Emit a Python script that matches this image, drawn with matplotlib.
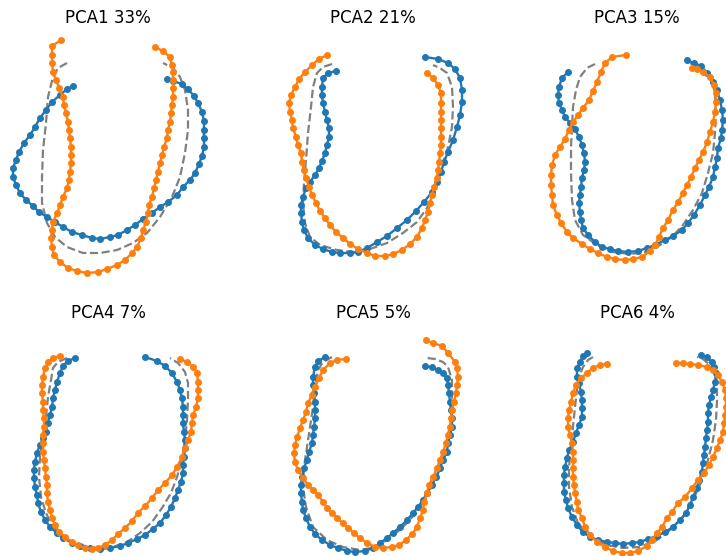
import numpy as np
import matplotlib
matplotlib.use('Agg')
from matplotlib import pyplot as plt

# shape outlines, in pixel units of the 726x556 image
titles = ['PCA1 33%', 'PCA2 21%', 'PCA3 15%', 'PCA4 7%', 'PCA5 5%', 'PCA6 4%']

pca1_mean = [(67, 63), (58, 68), (53, 77), (48, 97), (46, 123), (43, 150), (42, 177),
             (42, 203), (47, 223), (55, 237), (67, 247), (83, 253), (100, 253), (117, 250),
             (133, 243), (147, 233), (160, 217), (172, 197), (180, 177), (185, 153),
             (188, 130), (188, 110), (185, 90), (180, 77), (173, 68), (163, 63)]
pca1_blue = [(73, 86), (67, 89), (60, 95), (52, 102), (46, 110), (40, 118), (35, 127),
             (30, 135), (24, 143), (19, 152), (16, 160), (13, 168), (13, 177), (16, 185),
             (20, 193), (26, 200), (33, 206), (39, 212), (47, 217), (55, 222), (63, 227),
             (72, 232), (82, 235), (92, 238), (100, 239), (110, 237), (118, 235), (127, 230),
             (135, 225), (143, 219), (152, 213), (160, 207), (168, 202), (177, 195), (183, 187),
             (190, 180), (195, 173), (199, 164), (202, 156), (204, 147), (204, 138), (204, 130),
             (204, 121), (202, 112), (198, 103), (194, 96), (188, 89), (182, 84), (173, 81),
             (167, 79)]
pca1_orange = [(61, 40), (52, 46), (52, 55), (52, 63), (53, 72), (56, 80), (59, 88), (63, 97),
               (64, 105), (66, 113), (68, 122), (69, 130), (70, 138), (71, 147), (71, 155),
               (71, 163), (70, 172), (69, 180), (67, 188), (63, 197), (60, 205), (57, 213),
               (53, 222), (52, 230), (51, 238), (52, 247), (54, 255), (60, 262), (68, 268),
               (77, 271), (87, 273), (98, 272), (107, 269), (117, 265), (125, 260), (132, 253),
               (137, 247), (141, 238), (143, 230), (146, 222), (148, 213), (149, 205), (152, 197),
               (154, 188), (156, 180), (158, 172), (160, 163), (162, 155), (164, 147), (167, 138),
               (168, 130), (170, 122), (171, 113), (172, 105), (173, 97), (173, 88), (173, 80),
               (173, 72), (172, 65), (170, 57), (163, 51), (155, 47)]

pca2_mean = [(332, 64), (323, 67), (317, 73), (313, 87), (311, 107), (308, 133), (306, 160),
             (304, 183), (303, 203), (305, 223), (310, 237), (320, 245), (337, 250), (353, 252),
             (370, 249), (387, 243), (403, 233), (417, 222), (427, 208), (433, 193), (438, 180),
             (443, 163), (448, 147), (452, 127), (453, 107), (452, 87), (447, 73), (440, 68),
             (433, 65)]
pca2_blue = [(336, 71), (328, 73), (323, 78), (322, 87), (322, 95), (323, 103), (325, 112),
             (327, 120), (329, 128), (329, 137), (327, 145), (325, 153), (322, 161), (319, 168),
             (315, 175), (310, 182), (306, 188), (303, 197), (301, 205), (301, 213), (302, 222),
             (304, 230), (308, 238), (315, 245), (323, 249), (332, 252), (340, 253), (350, 253),
             (358, 252), (367, 248), (377, 242), (387, 236), (397, 228), (407, 220), (416, 211),
             (424, 202), (432, 192), (437, 182), (441, 172), (444, 162), (448, 152), (453, 140),
             (457, 127), (460, 115), (462, 102), (462, 90), (460, 78), (455, 69), (448, 63),
             (438, 59), (425, 57)]
pca2_orange = [(327, 55), (319, 59), (312, 65), (305, 72), (299, 79), (295, 87), (291, 95),
               (289, 103), (290, 112), (292, 120), (293, 128), (296, 137), (298, 145), (301, 153),
               (302, 162), (304, 170), (306, 178), (309, 187), (312, 195), (316, 203), (320, 211),
               (325, 218), (330, 225), (336, 232), (343, 238), (350, 244), (358, 249), (367, 253),
               (375, 256), (385, 256), (393, 254), (402, 250), (410, 244), (417, 237), (422, 228),
               (425, 220), (428, 212), (430, 203), (432, 195), (434, 187), (437, 178), (438, 170),
               (439, 162), (440, 153), (441, 145), (441, 137), (441, 128), (441, 120), (441, 112),
               (441, 103), (441, 93), (438, 85), (433, 78), (427, 73)]

pca3_mean = [(595, 64), (587, 68), (580, 77), (576, 90), (573, 107), (572, 127), (571, 147),
             (571, 173), (572, 200), (575, 220), (583, 235), (597, 245), (613, 252), (630, 254),
             (647, 252), (660, 245), (672, 237), (683, 225), (693, 210), (702, 193), (708, 173),
             (713, 153), (715, 133), (716, 113), (715, 93), (712, 80), (705, 71), (697, 66),
             (690, 63)]
pca3_blue = [(568, 72), (562, 78), (559, 87), (558, 95), (559, 103), (562, 110), (565, 117),
             (570, 123), (575, 129), (579, 137), (582, 145), (584, 153), (585, 162), (584, 170),
             (582, 178), (581, 187), (580, 195), (579, 203), (580, 212), (581, 220), (583, 228),
             (588, 235), (595, 242), (602, 247), (610, 249), (618, 251), (628, 252), (638, 251),
             (647, 248), (655, 245), (665, 240), (673, 236), (682, 230), (688, 223), (694, 215),
             (700, 205), (705, 195), (709, 187), (713, 177), (715, 167), (717, 158), (718, 148),
             (721, 138), (722, 130), (723, 120), (722, 110), (720, 100), (717, 90), (713, 82),
             (707, 73), (701, 66), (694, 63), (687, 60)]
pca3_orange = [(626, 55), (612, 57), (605, 63), (601, 72), (597, 82), (593, 91), (589, 100),
               (583, 108), (578, 115), (573, 122), (569, 130), (565, 139), (560, 147), (555, 155),
               (552, 165), (551, 175), (551, 185), (552, 195), (553, 205), (557, 215), (561, 223),
               (567, 232), (573, 238), (582, 244), (590, 249), (598, 253), (607, 257), (615, 259),
               (625, 260), (633, 259), (642, 257), (650, 251), (655, 245), (659, 237), (663, 228),
               (668, 220), (673, 210), (678, 202), (683, 193), (687, 185), (691, 177), (695, 168),
               (699, 160), (703, 152), (707, 142), (710, 132), (713, 122), (715, 112), (716, 102),
               (716, 93), (714, 85), (710, 77), (703, 72), (697, 69), (692, 68)]

pca4_mean = [(67, 358), (58, 362), (53, 368), (51, 380), (48, 397), (46, 417), (43, 437),
             (40, 457), (39, 477), (41, 497), (46, 513), (53, 527), (65, 538), (80, 545),
             (97, 548), (113, 547), (127, 542), (140, 533), (152, 522), (162, 508), (171, 493),
             (177, 477), (182, 460), (185, 440), (187, 420), (188, 400), (188, 383), (185, 372),
             (178, 363), (170, 358)]
pca4_blue = [(75, 358), (68, 361), (63, 366), (60, 373), (57, 382), (55, 390), (53, 398),
             (52, 407), (50, 415), (48, 423), (46, 432), (43, 438), (40, 445), (37, 453),
             (35, 462), (34, 470), (34, 478), (35, 487), (37, 495), (38, 503), (41, 512),
             (45, 520), (50, 527), (57, 533), (63, 538), (72, 543), (80, 546), (90, 548),
             (100, 549), (110, 548), (120, 546), (128, 543), (137, 539), (145, 535), (153, 529),
             (160, 523), (166, 515), (171, 507), (175, 498), (178, 490), (181, 482), (183, 473),
             (183, 465), (184, 457), (185, 448), (185, 440), (184, 432), (183, 423), (183, 415),
             (183, 407), (182, 398), (180, 390), (177, 382), (172, 373), (165, 366), (157, 361),
             (145, 357)]
pca4_orange = [(60, 356), (53, 358), (48, 362), (45, 368), (43, 377), (42, 385), (42, 393),
               (43, 402), (43, 410), (44, 418), (44, 427), (43, 435), (43, 443), (43, 452),
               (44, 460), (45, 468), (46, 477), (47, 485), (47, 493), (48, 502), (50, 510),
               (52, 518), (55, 525), (59, 532), (65, 537), (72, 542), (78, 545), (85, 548),
               (92, 549), (98, 548), (105, 545), (112, 540), (118, 534), (125, 528), (132, 521),
               (138, 513), (145, 506), (152, 498), (158, 490), (165, 483), (172, 475), (177, 467),
               (182, 457), (185, 448), (188, 440), (191, 432), (192, 423), (193, 415), (196, 407),
               (198, 398), (198, 390), (198, 382), (197, 373), (193, 367), (187, 362), (180, 359)]

pca5_mean = [(332, 357), (323, 362), (318, 370), (315, 387), (313, 407), (310, 427), (307, 447),
             (304, 467), (303, 487), (306, 507), (313, 527), (327, 540), (343, 547), (360, 550),
             (377, 547), (390, 538), (403, 527), (417, 512), (428, 493), (437, 477), (443, 457),
             (448, 437), (451, 417), (452, 397), (452, 380), (448, 367), (443, 362), (435, 359),
             (427, 358)]
pca5_blue = [(325, 357), (318, 361), (315, 367), (313, 377), (313, 385), (314, 393), (315, 402),
             (315, 410), (315, 418), (314, 427), (313, 435), (312, 443), (309, 452), (307, 460),
             (304, 468), (302, 477), (301, 485), (301, 493), (302, 502), (303, 510), (306, 518),
             (310, 527), (315, 534), (322, 540), (330, 545), (338, 548), (347, 551), (355, 552),
             (365, 551), (373, 548), (380, 543), (387, 538), (393, 533), (400, 527), (407, 520),
             (413, 513), (418, 507), (423, 500), (427, 493), (432, 485), (436, 477), (440, 468),
             (443, 460), (447, 452), (448, 443), (450, 435), (452, 427), (452, 418), (451, 410),
             (450, 402), (449, 393), (448, 385), (447, 378), (443, 373), (438, 370), (432, 367),
             (425, 366)]
pca5_orange = [(346, 359), (337, 360), (330, 363), (323, 370), (319, 378), (315, 387), (312, 395),
               (308, 403), (306, 412), (303, 420), (300, 428), (297, 437), (295, 445), (294, 453),
               (295, 462), (298, 470), (303, 478), (308, 485), (313, 490), (318, 495), (323, 502),
               (327, 508), (332, 513), (337, 518), (343, 523), (348, 528), (354, 533), (360, 538),
               (367, 543), (375, 547), (383, 548), (392, 547), (399, 545), (406, 540), (412, 534),
               (417, 527), (420, 518), (423, 510), (424, 502), (427, 493), (429, 485), (433, 477),
               (437, 468), (440, 460), (443, 452), (446, 443), (448, 435), (450, 427), (451, 418),
               (452, 410), (454, 402), (456, 393), (457, 385), (458, 377), (457, 368), (455, 362),
               (448, 353), (442, 346), (433, 343), (426, 340)]

pca6_mean = [(593, 357), (588, 360), (583, 367), (579, 377), (577, 390), (575, 407), (573, 427),
             (571, 447), (569, 467), (569, 487), (572, 507), (578, 523), (590, 537), (607, 545),
             (623, 548), (640, 547), (657, 540), (670, 530), (683, 517), (693, 500), (702, 480),
             (708, 460), (713, 440), (716, 420), (717, 400), (717, 383), (715, 373), (710, 365),
             (703, 359), (697, 357)]
pca6_blue = [(587, 353), (583, 356), (580, 362), (577, 368), (577, 377), (579, 383), (581, 392),
             (582, 400), (582, 408), (582, 417), (579, 425), (576, 433), (573, 442), (569, 450),
             (567, 458), (565, 467), (564, 475), (564, 483), (564, 492), (566, 500), (568, 508),
             (572, 517), (577, 525), (583, 532), (590, 537), (598, 540), (607, 542), (615, 543),
             (623, 544), (632, 543), (640, 542), (648, 539), (657, 536), (665, 532), (673, 527),
             (680, 520), (686, 513), (690, 505), (693, 497), (697, 488), (699, 480), (702, 472),
             (703, 463), (704, 455), (705, 447), (706, 438), (707, 430), (708, 422), (708, 413),
             (709, 405), (711, 397), (713, 390), (715, 382), (716, 373), (714, 367), (712, 362),
             (707, 357), (701, 355)]
pca6_orange = [(607, 364), (600, 365), (593, 368), (587, 373), (581, 378), (576, 385), (573, 393),
               (571, 402), (569, 410), (568, 418), (568, 427), (570, 435), (572, 443), (573, 452),
               (573, 460), (573, 468), (573, 477), (574, 485), (575, 493), (577, 502), (578, 510),
               (582, 518), (585, 527), (590, 535), (597, 542), (605, 547), (613, 551), (622, 553),
               (630, 553), (638, 551), (647, 546), (652, 540), (657, 533), (662, 527), (667, 518),
               (672, 512), (678, 503), (685, 497), (692, 488), (698, 480), (704, 473), (709, 465),
               (713, 457), (717, 448), (720, 440), (723, 432), (724, 423), (725, 415), (726, 407),
               (726, 398), (725, 390), (722, 382), (718, 375), (713, 370), (707, 367), (698, 365),
               (690, 364), (683, 363), (676, 363)]

means = [pca1_mean, pca2_mean, pca3_mean, pca4_mean, pca5_mean, pca6_mean]
blues = [pca1_blue, pca2_blue, pca3_blue, pca4_blue, pca5_blue, pca6_blue]
oranges = [pca1_orange, pca2_orange, pca3_orange, pca4_orange, pca5_orange, pca6_orange]

W, H = 726, 556
fig = plt.figure(figsize=(W / 100, H / 100), dpi=100)

col_centers = [108, 373, 637]
row_tops = [31, 326]
half_w, ax_h = 110, 254

for i in range(6):
    cx = col_centers[i % 3]
    top = row_tops[i // 3]
    left = cx - half_w
    ax = fig.add_axes([left / W, 1 - (top + ax_h) / H, 2 * half_w / W, ax_h / H])
    m = np.array(means[i])
    b = np.array(blues[i])
    o = np.array(oranges[i])
    ax.plot(m[:, 0], m[:, 1], '--', color='gray', lw=1.6)
    ax.plot(b[:, 0], b[:, 1], '-o', color='#1f77b4', lw=1.7, ms=4)
    ax.plot(o[:, 0], o[:, 1], '-o', color='#ff7f0e', lw=1.7, ms=4)
    ax.set_xlim(left, left + 2 * half_w)
    ax.set_ylim(top + ax_h, top)
    ax.set_title(titles[i], fontsize=12)
    ax.axis('off')

fig.savefig('out.png', dpi=100)
